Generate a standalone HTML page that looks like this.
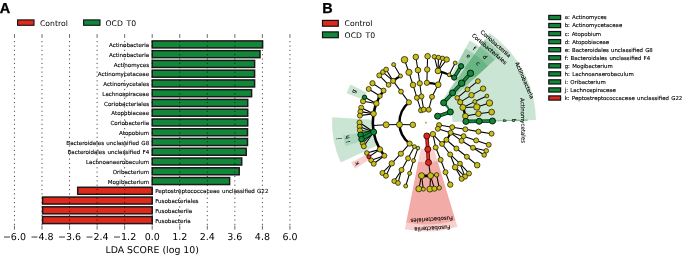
<!DOCTYPE html>
<html><head><meta charset="utf-8"><title>LEfSe</title>
<style>html,body{margin:0;padding:0;background:#fff}svg{display:block}text{text-rendering:geometricPrecision;filter:grayscale(1)}text[font-size^="5."]{stroke:#000;stroke-width:0.12px;word-spacing:0.5px}</style></head>
<body>
<svg width="685" height="255" viewBox="0 0 685 255" font-family='"DejaVu Sans","Liberation Sans",sans-serif' fill="#000">
<rect x="152.20" y="40.90" width="110.40" height="7.00" fill="#12873a" stroke="#1a1a1a" stroke-width="1.5"/>
<text x="149.2" y="47.00" font-size="5.55" text-anchor="end">Actinobacteria</text>
<rect x="152.20" y="50.66" width="107.80" height="7.00" fill="#12873a" stroke="#1a1a1a" stroke-width="1.5"/>
<text x="149.2" y="56.76" font-size="5.55" text-anchor="end">Actinobacteria</text>
<rect x="152.20" y="60.42" width="102.40" height="7.00" fill="#12873a" stroke="#1a1a1a" stroke-width="1.5"/>
<text x="149.2" y="66.52" font-size="5.55" text-anchor="end">Actinomyces</text>
<rect x="152.20" y="70.18" width="102.40" height="7.00" fill="#12873a" stroke="#1a1a1a" stroke-width="1.5"/>
<text x="149.2" y="76.28" font-size="5.55" text-anchor="end">Actinomycetaceae</text>
<rect x="152.20" y="79.94" width="102.40" height="7.00" fill="#12873a" stroke="#1a1a1a" stroke-width="1.5"/>
<text x="149.2" y="86.04" font-size="5.55" text-anchor="end">Actinomycetales</text>
<rect x="152.20" y="89.70" width="99.40" height="7.00" fill="#12873a" stroke="#1a1a1a" stroke-width="1.5"/>
<text x="149.2" y="95.80" font-size="5.55" text-anchor="end">Lachnospiraceae</text>
<rect x="152.20" y="99.46" width="95.50" height="7.00" fill="#12873a" stroke="#1a1a1a" stroke-width="1.5"/>
<text x="149.2" y="105.56" font-size="5.55" text-anchor="end">Coriobacteriales</text>
<rect x="152.20" y="109.22" width="95.50" height="7.00" fill="#12873a" stroke="#1a1a1a" stroke-width="1.5"/>
<text x="149.2" y="115.32" font-size="5.55" text-anchor="end">Atopobiaceae</text>
<rect x="152.20" y="118.98" width="95.50" height="7.00" fill="#12873a" stroke="#1a1a1a" stroke-width="1.5"/>
<text x="149.2" y="125.08" font-size="5.55" text-anchor="end">Coriobacteriia</text>
<rect x="152.20" y="128.74" width="95.30" height="7.00" fill="#12873a" stroke="#1a1a1a" stroke-width="1.5"/>
<text x="149.2" y="134.84" font-size="5.55" text-anchor="end">Atopobium</text>
<rect x="152.20" y="138.50" width="95.30" height="7.00" fill="#12873a" stroke="#1a1a1a" stroke-width="1.5"/>
<text x="149.2" y="144.60" font-size="5.55" text-anchor="end">Bacteroidales unclassified G8</text>
<rect x="152.20" y="148.26" width="94.00" height="7.00" fill="#12873a" stroke="#1a1a1a" stroke-width="1.5"/>
<text x="149.2" y="154.36" font-size="5.55" text-anchor="end">Bacteroidales unclassified F4</text>
<rect x="152.20" y="158.02" width="89.50" height="7.00" fill="#12873a" stroke="#1a1a1a" stroke-width="1.5"/>
<text x="149.2" y="164.12" font-size="5.55" text-anchor="end">Lachnoanaerobaculum</text>
<rect x="152.20" y="167.78" width="87.00" height="7.00" fill="#12873a" stroke="#1a1a1a" stroke-width="1.5"/>
<text x="149.2" y="173.88" font-size="5.55" text-anchor="end">Oribacterium</text>
<rect x="152.20" y="177.54" width="77.40" height="7.00" fill="#12873a" stroke="#1a1a1a" stroke-width="1.5"/>
<text x="149.2" y="183.64" font-size="5.55" text-anchor="end">Mogibacterium</text>
<rect x="77.70" y="187.30" width="74.50" height="7.00" fill="#e0281c" stroke="#1a1a1a" stroke-width="1.5"/>
<text x="155.2" y="193.40" font-size="5.55">Peptostreptococcaceae unclassified G22</text>
<rect x="42.60" y="197.06" width="109.60" height="7.00" fill="#e0281c" stroke="#1a1a1a" stroke-width="1.5"/>
<text x="155.2" y="203.16" font-size="5.55">Fusobacteriales</text>
<rect x="42.60" y="206.82" width="109.60" height="7.00" fill="#e0281c" stroke="#1a1a1a" stroke-width="1.5"/>
<text x="155.2" y="212.92" font-size="5.55">Fusobacteriia</text>
<rect x="42.60" y="216.58" width="109.60" height="7.00" fill="#e0281c" stroke="#1a1a1a" stroke-width="1.5"/>
<text x="155.2" y="222.68" font-size="5.55">Fusobacteria</text>
<g stroke="#000" stroke-width="0.75" stroke-dasharray="1.1 3.25"><line x1="14.45" y1="41.1" x2="14.45" y2="225"/><line x1="42.00" y1="41.1" x2="42.00" y2="225"/><line x1="69.55" y1="41.1" x2="69.55" y2="225"/><line x1="97.10" y1="41.1" x2="97.10" y2="225"/><line x1="124.65" y1="41.1" x2="124.65" y2="225"/><line x1="152.20" y1="41.1" x2="152.20" y2="225"/><line x1="179.75" y1="41.1" x2="179.75" y2="225"/><line x1="207.30" y1="41.1" x2="207.30" y2="225"/><line x1="234.85" y1="41.1" x2="234.85" y2="225"/><line x1="262.40" y1="41.1" x2="262.40" y2="225"/><line x1="289.95" y1="41.1" x2="289.95" y2="225"/></g>
<g stroke="#000" stroke-width="0.6"><line x1="14.45" y1="34.2" x2="14.45" y2="37.9"/><line x1="14.45" y1="225.6" x2="14.45" y2="229.6"/><line x1="42.00" y1="34.2" x2="42.00" y2="37.9"/><line x1="42.00" y1="225.6" x2="42.00" y2="229.6"/><line x1="69.55" y1="34.2" x2="69.55" y2="37.9"/><line x1="69.55" y1="225.6" x2="69.55" y2="229.6"/><line x1="97.10" y1="34.2" x2="97.10" y2="37.9"/><line x1="97.10" y1="225.6" x2="97.10" y2="229.6"/><line x1="124.65" y1="34.2" x2="124.65" y2="37.9"/><line x1="124.65" y1="225.6" x2="124.65" y2="229.6"/><line x1="152.20" y1="34.2" x2="152.20" y2="37.9"/><line x1="152.20" y1="225.6" x2="152.20" y2="229.6"/><line x1="179.75" y1="34.2" x2="179.75" y2="37.9"/><line x1="179.75" y1="225.6" x2="179.75" y2="229.6"/><line x1="207.30" y1="34.2" x2="207.30" y2="37.9"/><line x1="207.30" y1="225.6" x2="207.30" y2="229.6"/><line x1="234.85" y1="34.2" x2="234.85" y2="37.9"/><line x1="234.85" y1="225.6" x2="234.85" y2="229.6"/><line x1="262.40" y1="34.2" x2="262.40" y2="37.9"/><line x1="262.40" y1="225.6" x2="262.40" y2="229.6"/><line x1="289.95" y1="34.2" x2="289.95" y2="37.9"/><line x1="289.95" y1="225.6" x2="289.95" y2="229.6"/></g>
<text x="14.45" y="240.1" font-size="9.5" text-anchor="middle">−6.0</text>
<text x="42.00" y="240.1" font-size="9.5" text-anchor="middle">−4.8</text>
<text x="69.55" y="240.1" font-size="9.5" text-anchor="middle">−3.6</text>
<text x="97.10" y="240.1" font-size="9.5" text-anchor="middle">−2.4</text>
<text x="124.65" y="240.1" font-size="9.5" text-anchor="middle">−1.2</text>
<text x="152.20" y="240.1" font-size="9.5" text-anchor="middle">0.0</text>
<text x="179.75" y="240.1" font-size="9.5" text-anchor="middle">1.2</text>
<text x="207.30" y="240.1" font-size="9.5" text-anchor="middle">2.4</text>
<text x="234.85" y="240.1" font-size="9.5" text-anchor="middle">3.6</text>
<text x="262.40" y="240.1" font-size="9.5" text-anchor="middle">4.8</text>
<text x="289.95" y="240.1" font-size="9.5" text-anchor="middle">6.0</text>
<text x="152.2" y="252.6" font-size="9.4" text-anchor="middle">LDA SCORE (log 10)</text>
<rect x="17.6" y="19.9" width="16.4" height="5.4" fill="#e0281c" stroke="#111" stroke-width="1.1"/>
<text x="40" y="26.3" font-size="7.7">Control</text>
<rect x="83.6" y="19.9" width="16.4" height="5.4" fill="#12873a" stroke="#111" stroke-width="1.1"/>
<text x="105.5" y="26.3" font-size="7.7">OCD&#160;<tspan dx="1.2">T0</tspan></text>
<text x="-0.2" y="13.0" font-size="14.4" stroke="#000" stroke-width="0.3" font-weight="bold" font-family="&quot;Liberation Sans&quot;,sans-serif">A</text>
<text x="322.3" y="13.0" font-size="14.4" stroke="#000" stroke-width="0.3" font-weight="bold" font-family="&quot;Liberation Sans&quot;,sans-serif">B</text>
<rect x="322.5" y="20.4" width="15.8" height="5.8" fill="#e0281c" stroke="#111" stroke-width="1.2"/>
<text x="344.6" y="26.0" font-size="7.7">Control</text>
<rect x="322.5" y="31.9" width="15.8" height="5.8" fill="#12873a" stroke="#111" stroke-width="1.2"/>
<text x="344.6" y="37.5" font-size="7.7">OCD&#160;<tspan dx="1.2">T0</tspan></text>
<rect x="548.8" y="15.40" width="11.8" height="4.2" fill="#12873a" stroke="#111" stroke-width="1.2"/>
<text x="564.7" y="19.40" font-size="5.41">a: Actinomyces</text>
<rect x="548.8" y="23.45" width="11.8" height="4.2" fill="#12873a" stroke="#111" stroke-width="1.2"/>
<text x="564.7" y="27.45" font-size="5.41">b: Actinomycetaceae</text>
<rect x="548.8" y="31.50" width="11.8" height="4.2" fill="#12873a" stroke="#111" stroke-width="1.2"/>
<text x="564.7" y="35.50" font-size="5.41">c: Atopobium</text>
<rect x="548.8" y="39.55" width="11.8" height="4.2" fill="#12873a" stroke="#111" stroke-width="1.2"/>
<text x="564.7" y="43.55" font-size="5.41">d: Atopobiaceae</text>
<rect x="548.8" y="47.60" width="11.8" height="4.2" fill="#12873a" stroke="#111" stroke-width="1.2"/>
<text x="564.7" y="51.60" font-size="5.41">e: Bacteroidales unclassified G8</text>
<rect x="548.8" y="55.65" width="11.8" height="4.2" fill="#12873a" stroke="#111" stroke-width="1.2"/>
<text x="564.7" y="59.65" font-size="5.41">f: Bacteroidales unclassified F4</text>
<rect x="548.8" y="63.70" width="11.8" height="4.2" fill="#12873a" stroke="#111" stroke-width="1.2"/>
<text x="564.7" y="67.70" font-size="5.41">g: Mogibacterium</text>
<rect x="548.8" y="71.75" width="11.8" height="4.2" fill="#12873a" stroke="#111" stroke-width="1.2"/>
<text x="564.7" y="75.75" font-size="5.41">h: Lachnoanaerobaculum</text>
<rect x="548.8" y="79.80" width="11.8" height="4.2" fill="#12873a" stroke="#111" stroke-width="1.2"/>
<text x="564.7" y="83.80" font-size="5.41">i: Oribacterium</text>
<rect x="548.8" y="87.85" width="11.8" height="4.2" fill="#12873a" stroke="#111" stroke-width="1.2"/>
<text x="564.7" y="91.85" font-size="5.41">j: Lachnospiraceae</text>
<rect x="548.8" y="95.90" width="11.8" height="4.2" fill="#e0281c" stroke="#111" stroke-width="1.2"/>
<text x="564.7" y="99.90" font-size="5.41">k: Peptostreptococcaceae unclassified G22</text>
<g><path d="M452.59,122.05 L535.97,120.01 A110.00,110.00 0 0 0 507.10,48.39 L445.61,104.73 A26.60,26.60 0 0 1 452.59,122.05 Z" fill="#12873a" fill-opacity="0.22"/><path d="M445.61,104.73 L507.10,48.39 A110.00,110.00 0 0 0 489.56,32.92 L441.37,100.99 A26.60,26.60 0 0 1 445.61,104.73 Z" fill="#12873a" fill-opacity="0.22"/><path d="M455.42,95.74 L501.05,53.92 A101.80,101.80 0 0 0 484.83,39.62 L449.06,90.14 A39.90,39.90 0 0 1 455.42,95.74 Z" fill="#12873a" fill-opacity="0.22"/><path d="M465.22,86.76 L494.57,59.87 A93.00,93.00 0 0 0 479.74,46.80 L456.74,79.28 A53.20,53.20 0 0 1 465.22,86.76 Z" fill="#12873a" fill-opacity="0.22"/><path d="M475.03,77.77 L487.93,65.95 A84.00,84.00 0 0 0 474.54,54.14 L464.43,68.43 A66.50,66.50 0 0 1 475.03,77.77 Z" fill="#12873a" fill-opacity="0.22"/><path d="M456.74,79.28 L479.74,46.80 A93.00,93.00 0 0 0 469.66,40.59 L450.98,75.73 A53.20,53.20 0 0 1 456.74,79.28 Z" fill="#12873a" fill-opacity="0.22"/><path d="M464.43,68.43 L474.54,54.14 A84.00,84.00 0 0 0 465.44,48.53 L457.22,63.98 A66.50,66.50 0 0 1 464.43,68.43 Z" fill="#12873a" fill-opacity="0.22"/><path d="M372.89,119.64 L332.16,117.29 A94.00,94.00 0 0 0 340.81,162.43 L377.78,145.18 A53.20,53.20 0 0 1 372.89,119.64 Z" fill="#12873a" fill-opacity="0.22"/><path d="M360.25,132.64 L342.94,135.26 A84.00,84.00 0 0 0 343.96,140.74 L361.05,136.98 A66.50,66.50 0 0 1 360.25,132.64 Z" fill="#12873a" fill-opacity="0.15"/><path d="M361.05,136.98 L343.96,140.74 A84.00,84.00 0 0 0 345.29,145.99 L362.11,141.14 A66.50,66.50 0 0 1 361.05,136.98 Z" fill="#12873a" fill-opacity="0.15"/><path d="M366.70,92.61 L350.46,84.38 A84.70,84.70 0 0 0 346.56,93.31 L363.63,99.63 A66.50,66.50 0 0 1 366.70,92.61 Z" fill="#12873a" fill-opacity="0.22"/><path d="M367.28,153.92 L351.21,162.46 A84.70,84.70 0 0 0 354.96,168.83 L370.23,158.92 A66.50,66.50 0 0 1 367.28,153.92 Z" fill="#e0281c" fill-opacity="0.22"/><path d="M420.83,148.79 L404.89,229.33 A108.70,108.70 0 0 0 457.42,226.76 L433.69,148.16 A26.60,26.60 0 0 1 420.83,148.79 Z" fill="#e0281c" fill-opacity="0.22"/><path d="M418.25,161.84 L406.23,222.56 A101.80,101.80 0 0 0 455.42,220.16 L437.53,160.90 A39.90,39.90 0 0 1 418.25,161.84 Z" fill="#e0281c" fill-opacity="0.22"/><line x1="492.48" y1="121.02" x2="527.77" y2="120.12" stroke="#12873a" stroke-opacity="0.5" stroke-width="1.2"/></g>
<g><line x1="421.03" y1="110.36" x2="416.89" y2="97.71" stroke="#000" stroke-width="1.05"/><line x1="423.68" y1="109.60" x2="421.46" y2="96.49" stroke="#000" stroke-width="1.05"/><line x1="428.72" y1="109.68" x2="432.00" y2="96.79" stroke="#000" stroke-width="1.05"/><line x1="439.09" y1="125.08" x2="452.21" y2="127.24" stroke="#000" stroke-width="1.05"/><line x1="437.84" y1="128.77" x2="450.62" y2="132.77" stroke="#000" stroke-width="1.05"/><line x1="432.87" y1="134.09" x2="442.05" y2="143.91" stroke="#000" stroke-width="1.05"/><line x1="432.87" y1="134.09" x2="435.71" y2="147.47" stroke="#000" stroke-width="1.05"/><line x1="412.87" y1="124.82" x2="399.46" y2="124.55" stroke="#000" stroke-width="1.05"/><line x1="416.89" y1="97.71" x2="413.03" y2="84.97" stroke="#000" stroke-width="1.05"/><line x1="421.46" y1="96.49" x2="419.78" y2="83.29" stroke="#000" stroke-width="1.05"/><line x1="432.00" y1="96.79" x2="438.16" y2="84.70" stroke="#000" stroke-width="1.05"/><line x1="452.21" y1="127.24" x2="465.35" y2="129.32" stroke="#000" stroke-width="1.05"/><line x1="450.62" y1="132.77" x2="463.55" y2="136.19" stroke="#000" stroke-width="1.05"/><line x1="450.62" y1="132.77" x2="461.55" y2="140.82" stroke="#000" stroke-width="1.05"/><line x1="446.40" y1="139.77" x2="456.42" y2="148.52" stroke="#000" stroke-width="1.05"/><line x1="442.05" y1="143.91" x2="450.13" y2="154.47" stroke="#000" stroke-width="1.05"/><line x1="435.71" y1="147.47" x2="440.65" y2="159.81" stroke="#000" stroke-width="1.05"/><line x1="408.90" y1="102.32" x2="401.01" y2="91.59" stroke="#000" stroke-width="1.05"/><line x1="399.46" y1="124.55" x2="386.15" y2="124.77" stroke="#000" stroke-width="1.05"/><line x1="409.57" y1="143.62" x2="400.86" y2="153.68" stroke="#000" stroke-width="1.05"/><line x1="414.38" y1="146.63" x2="408.08" y2="158.35" stroke="#000" stroke-width="1.05"/><line x1="417.97" y1="148.06" x2="413.56" y2="160.61" stroke="#000" stroke-width="1.05"/><line x1="413.03" y1="84.97" x2="408.94" y2="72.31" stroke="#000" stroke-width="1.05"/><line x1="419.78" y1="83.29" x2="417.97" y2="70.11" stroke="#000" stroke-width="1.05"/><line x1="426.90" y1="82.81" x2="427.21" y2="69.51" stroke="#000" stroke-width="1.05"/><line x1="457.22" y1="97.85" x2="467.46" y2="89.37" stroke="#000" stroke-width="1.05"/><line x1="460.20" y1="102.14" x2="471.50" y2="95.14" stroke="#000" stroke-width="1.05"/><line x1="462.87" y1="107.45" x2="474.84" y2="101.60" stroke="#000" stroke-width="1.05"/><line x1="462.87" y1="107.45" x2="476.82" y2="106.96" stroke="#000" stroke-width="1.05"/><line x1="465.35" y1="116.08" x2="478.44" y2="113.73" stroke="#000" stroke-width="1.05"/><line x1="465.35" y1="129.32" x2="478.45" y2="131.61" stroke="#000" stroke-width="1.05"/><line x1="463.55" y1="136.19" x2="476.16" y2="140.42" stroke="#000" stroke-width="1.05"/><line x1="461.55" y1="140.82" x2="472.95" y2="147.72" stroke="#000" stroke-width="1.05"/><line x1="456.42" y1="148.52" x2="466.87" y2="156.76" stroke="#000" stroke-width="1.05"/><line x1="450.13" y1="154.47" x2="455.14" y2="167.21" stroke="#000" stroke-width="1.05"/><line x1="450.13" y1="154.47" x2="460.01" y2="163.61" stroke="#000" stroke-width="1.05"/><line x1="440.65" y1="159.81" x2="445.52" y2="172.19" stroke="#000" stroke-width="1.05"/><line x1="428.49" y1="162.52" x2="430.57" y2="175.70" stroke="#000" stroke-width="1.05"/><line x1="400.86" y1="153.68" x2="391.75" y2="163.41" stroke="#000" stroke-width="1.05"/><line x1="408.08" y1="158.35" x2="401.54" y2="169.94" stroke="#000" stroke-width="1.05"/><line x1="413.56" y1="160.61" x2="409.62" y2="173.32" stroke="#000" stroke-width="1.05"/><line x1="401.01" y1="91.59" x2="393.11" y2="80.89" stroke="#000" stroke-width="1.05"/><line x1="408.94" y1="72.31" x2="404.52" y2="59.76" stroke="#000" stroke-width="1.05"/><line x1="417.97" y1="70.11" x2="415.81" y2="56.98" stroke="#000" stroke-width="1.05"/><line x1="427.21" y1="69.51" x2="427.60" y2="56.22" stroke="#000" stroke-width="1.05"/><line x1="438.03" y1="70.88" x2="434.33" y2="56.72" stroke="#000" stroke-width="1.05"/><line x1="438.03" y1="70.88" x2="438.48" y2="57.38" stroke="#000" stroke-width="1.05"/><line x1="438.03" y1="70.88" x2="442.53" y2="58.29" stroke="#000" stroke-width="1.05"/><line x1="438.03" y1="70.88" x2="446.70" y2="59.50" stroke="#000" stroke-width="1.05"/><line x1="449.19" y1="74.82" x2="455.17" y2="62.94" stroke="#000" stroke-width="1.05"/><line x1="467.46" y1="89.37" x2="477.91" y2="81.13" stroke="#000" stroke-width="1.05"/><line x1="471.50" y1="95.14" x2="483.11" y2="88.63" stroke="#000" stroke-width="1.05"/><line x1="474.84" y1="101.60" x2="486.90" y2="96.00" stroke="#000" stroke-width="1.05"/><line x1="476.82" y1="106.96" x2="489.50" y2="102.97" stroke="#000" stroke-width="1.05"/><line x1="478.44" y1="113.73" x2="491.64" y2="112.06" stroke="#000" stroke-width="1.05"/><line x1="478.45" y1="131.61" x2="491.59" y2="133.68" stroke="#000" stroke-width="1.05"/><line x1="476.16" y1="140.42" x2="488.72" y2="144.80" stroke="#000" stroke-width="1.05"/><line x1="472.95" y1="147.72" x2="486.26" y2="150.83" stroke="#000" stroke-width="1.05"/><line x1="472.95" y1="147.72" x2="484.15" y2="154.97" stroke="#000" stroke-width="1.05"/><line x1="466.87" y1="156.76" x2="477.16" y2="165.18" stroke="#000" stroke-width="1.05"/><line x1="460.01" y1="163.61" x2="468.96" y2="173.47" stroke="#000" stroke-width="1.05"/><line x1="455.14" y1="167.21" x2="464.97" y2="176.58" stroke="#000" stroke-width="1.05"/><line x1="460.01" y1="163.61" x2="464.97" y2="176.58" stroke="#000" stroke-width="1.05"/><line x1="455.14" y1="167.21" x2="461.61" y2="178.86" stroke="#000" stroke-width="1.05"/><line x1="445.52" y1="172.19" x2="450.25" y2="184.62" stroke="#000" stroke-width="1.05"/><line x1="421.53" y1="175.71" x2="418.82" y2="188.81" stroke="#000" stroke-width="1.05"/><line x1="421.53" y1="175.71" x2="423.31" y2="189.15" stroke="#000" stroke-width="1.05"/><line x1="430.57" y1="175.70" x2="429.89" y2="189.09" stroke="#000" stroke-width="1.05"/><line x1="430.57" y1="175.70" x2="434.36" y2="188.67" stroke="#000" stroke-width="1.05"/><line x1="436.60" y1="174.83" x2="439.23" y2="187.87" stroke="#000" stroke-width="1.05"/><line x1="391.75" y1="163.41" x2="382.43" y2="172.94" stroke="#000" stroke-width="1.05"/><line x1="391.75" y1="163.41" x2="385.94" y2="175.78" stroke="#000" stroke-width="1.05"/><line x1="401.54" y1="169.94" x2="394.22" y2="181.11" stroke="#000" stroke-width="1.05"/><line x1="401.54" y1="169.94" x2="398.01" y2="183.02" stroke="#000" stroke-width="1.05"/><line x1="409.62" y1="173.32" x2="405.69" y2="186.02" stroke="#000" stroke-width="1.05"/><line x1="379.97" y1="149.37" x2="366.80" y2="152.99" stroke="#000" stroke-width="1.05"/><line x1="379.97" y1="149.37" x2="368.90" y2="156.78" stroke="#000" stroke-width="1.05"/><line x1="384.33" y1="155.78" x2="371.15" y2="160.29" stroke="#000" stroke-width="1.05"/><line x1="384.33" y1="155.78" x2="373.71" y2="163.78" stroke="#000" stroke-width="1.05"/><line x1="373.62" y1="131.99" x2="359.50" y2="122.50" stroke="#000" stroke-width="1.05"/><line x1="373.62" y1="131.99" x2="359.62" y2="126.75" stroke="#000" stroke-width="1.05"/><line x1="373.62" y1="131.99" x2="359.95" y2="130.42" stroke="#000" stroke-width="1.05"/><line x1="373.62" y1="131.99" x2="362.71" y2="143.10" stroke="#000" stroke-width="1.05"/><line x1="373.62" y1="131.99" x2="363.82" y2="146.27" stroke="#000" stroke-width="1.05"/><line x1="373.57" y1="113.70" x2="361.22" y2="107.67" stroke="#000" stroke-width="1.05"/><line x1="373.57" y1="113.70" x2="360.43" y2="111.64" stroke="#000" stroke-width="1.05"/><line x1="373.57" y1="113.70" x2="359.88" y2="115.62" stroke="#000" stroke-width="1.05"/><line x1="376.40" y1="103.47" x2="364.55" y2="97.29" stroke="#000" stroke-width="1.05"/><line x1="376.40" y1="103.47" x2="363.04" y2="101.28" stroke="#000" stroke-width="1.05"/><line x1="379.96" y1="96.05" x2="368.69" y2="88.97" stroke="#000" stroke-width="1.05"/><line x1="383.59" y1="90.58" x2="372.49" y2="83.21" stroke="#000" stroke-width="1.05"/><line x1="388.58" y1="84.88" x2="379.28" y2="75.38" stroke="#000" stroke-width="1.05"/><line x1="393.11" y1="80.89" x2="382.91" y2="72.05" stroke="#000" stroke-width="1.05"/><line x1="393.11" y1="80.89" x2="386.13" y2="69.48" stroke="#000" stroke-width="1.05"/><line x1="400.50" y1="76.01" x2="393.65" y2="64.60" stroke="#000" stroke-width="1.05"/><line x1="438.16" y1="84.70" x2="442.22" y2="72.03" stroke="#000" stroke-width="1.05"/><line x1="386.15" y1="124.77" x2="372.87" y2="125.46" stroke="#000" stroke-width="1.05"/><path d="M408.90,102.32 A26.60,26.60 0 0 0 409.57,143.62" fill="none" stroke="#000" stroke-width="2.4"/><path d="M409.57,143.62 A26.60,26.60 0 0 0 417.97,148.06" fill="none" stroke="#000" stroke-width="1.0"/><path d="M450.62,132.77 A26.60,26.60 0 0 1 446.40,139.77" fill="none" stroke="#000" stroke-width="2.0"/><path d="M446.40,139.77 A26.60,26.60 0 0 1 442.05,143.91" fill="none" stroke="#000" stroke-width="2.0"/><path d="M426.90,82.81 A39.90,39.90 0 0 1 438.16,84.70" fill="none" stroke="#000" stroke-width="2.2"/><path d="M457.22,97.85 A39.90,39.90 0 0 1 462.87,107.45" fill="none" stroke="#000" stroke-width="1.3"/><path d="M462.87,107.45 A39.90,39.90 0 0 1 465.35,116.08" fill="none" stroke="#000" stroke-width="2.4"/><path d="M465.35,116.08 A39.90,39.90 0 0 1 465.88,121.40" fill="none" stroke="#000" stroke-width="1.3"/><path d="M438.03,70.88 A53.20,53.20 0 0 1 454.20,77.59" fill="none" stroke="#000" stroke-width="2.2"/><path d="M421.53,175.71 A53.20,53.20 0 0 0 430.57,175.70" fill="none" stroke="#000" stroke-width="2.8"/><path d="M430.57,175.70 A53.20,53.20 0 0 0 436.60,174.83" fill="none" stroke="#000" stroke-width="1.4"/><path d="M383.59,90.58 A53.20,53.20 0 0 0 384.33,155.78" fill="none" stroke="#000" stroke-width="2.6"/><path d="M400.50,76.01 A53.20,53.20 0 0 0 393.11,80.89" fill="none" stroke="#000" stroke-width="2.2"/><path d="M393.11,80.89 A53.20,53.20 0 0 0 388.58,84.88" fill="none" stroke="#000" stroke-width="0.9"/><line x1="437.59" y1="116.18" x2="450.34" y2="111.96" stroke="#05260e" stroke-width="3.6" stroke-linecap="round"/><line x1="437.59" y1="116.18" x2="450.34" y2="111.96" stroke="#12873a" stroke-width="2.2"/><line x1="443.61" y1="102.76" x2="452.55" y2="92.92" stroke="#05260e" stroke-width="3.6" stroke-linecap="round"/><line x1="443.61" y1="102.76" x2="452.55" y2="92.92" stroke="#12873a" stroke-width="2.2"/><line x1="452.55" y1="92.92" x2="461.65" y2="83.21" stroke="#05260e" stroke-width="3.6" stroke-linecap="round"/><line x1="452.55" y1="92.92" x2="461.65" y2="83.21" stroke="#12873a" stroke-width="2.2"/><line x1="461.65" y1="83.21" x2="470.50" y2="73.29" stroke="#05260e" stroke-width="3.6" stroke-linecap="round"/><line x1="461.65" y1="83.21" x2="470.50" y2="73.29" stroke="#12873a" stroke-width="2.2"/><line x1="454.20" y1="77.59" x2="461.08" y2="66.21" stroke="#05260e" stroke-width="3.6" stroke-linecap="round"/><line x1="454.20" y1="77.59" x2="461.08" y2="66.21" stroke="#12873a" stroke-width="2.2"/><line x1="465.88" y1="121.40" x2="479.18" y2="121.29" stroke="#05260e" stroke-width="3.6" stroke-linecap="round"/><line x1="465.88" y1="121.40" x2="479.18" y2="121.29" stroke="#12873a" stroke-width="2.2"/><line x1="479.18" y1="121.29" x2="492.48" y2="121.00" stroke="#05260e" stroke-width="3.6" stroke-linecap="round"/><line x1="479.18" y1="121.29" x2="492.48" y2="121.00" stroke="#12873a" stroke-width="2.2"/><line x1="373.62" y1="131.99" x2="360.61" y2="134.81" stroke="#05260e" stroke-width="3.6" stroke-linecap="round"/><line x1="373.62" y1="131.99" x2="360.61" y2="134.81" stroke="#12873a" stroke-width="2.2"/><line x1="373.62" y1="131.99" x2="361.56" y2="139.13" stroke="#05260e" stroke-width="3.6" stroke-linecap="round"/><line x1="373.62" y1="131.99" x2="361.56" y2="139.13" stroke="#12873a" stroke-width="2.2"/><path d="M450.34,111.96 A26.60,26.60 0 0 0 443.61,102.76" fill="none" stroke="#0b5a26" stroke-width="2.0"/><path d="M450.34,111.96 A26.60,26.60 0 0 0 443.61,102.76" fill="none" stroke="#12873a" stroke-width="0.8"/><line x1="426.79" y1="135.98" x2="427.80" y2="149.24" stroke="#4a0804" stroke-width="3.6"/><line x1="426.79" y1="135.98" x2="427.80" y2="149.24" stroke="#e0281c" stroke-width="2.2"/><line x1="427.80" y1="149.24" x2="428.49" y2="162.52" stroke="#4a0804" stroke-width="3.6"/><line x1="427.80" y1="149.24" x2="428.49" y2="162.52" stroke="#e0281c" stroke-width="2.2"/></g>
<g><circle cx="426.0" cy="122.7" r="0.85" fill="#a39a10"/><circle cx="421.03" cy="110.36" r="2.5" fill="#c9bf1b" stroke="#1c1a00" stroke-width="0.75"/><circle cx="423.68" cy="109.60" r="2.5" fill="#c9bf1b" stroke="#1c1a00" stroke-width="0.75"/><circle cx="428.72" cy="109.68" r="2.5" fill="#c9bf1b" stroke="#1c1a00" stroke-width="0.75"/><circle cx="439.09" cy="125.08" r="2.5" fill="#c9bf1b" stroke="#1c1a00" stroke-width="0.75"/><circle cx="437.84" cy="128.77" r="2.5" fill="#c9bf1b" stroke="#1c1a00" stroke-width="0.75"/><circle cx="432.87" cy="134.09" r="2.7" fill="#c9bf1b" stroke="#1c1a00" stroke-width="0.75"/><circle cx="412.87" cy="124.82" r="2.8" fill="#c9bf1b" stroke="#1c1a00" stroke-width="0.75"/><circle cx="416.89" cy="97.71" r="2.5" fill="#c9bf1b" stroke="#1c1a00" stroke-width="0.75"/><circle cx="421.46" cy="96.49" r="2.5" fill="#c9bf1b" stroke="#1c1a00" stroke-width="0.75"/><circle cx="432.00" cy="96.79" r="2.5" fill="#c9bf1b" stroke="#1c1a00" stroke-width="0.75"/><circle cx="452.21" cy="127.24" r="2.5" fill="#c9bf1b" stroke="#1c1a00" stroke-width="0.75"/><circle cx="450.62" cy="132.77" r="2.5" fill="#c9bf1b" stroke="#1c1a00" stroke-width="0.75"/><circle cx="446.40" cy="139.77" r="2.5" fill="#c9bf1b" stroke="#1c1a00" stroke-width="0.75"/><circle cx="442.05" cy="143.91" r="2.5" fill="#c9bf1b" stroke="#1c1a00" stroke-width="0.75"/><circle cx="435.71" cy="147.47" r="2.5" fill="#c9bf1b" stroke="#1c1a00" stroke-width="0.75"/><circle cx="408.90" cy="102.32" r="2.6" fill="#c9bf1b" stroke="#1c1a00" stroke-width="0.75"/><circle cx="399.46" cy="124.55" r="3.0" fill="#c9bf1b" stroke="#1c1a00" stroke-width="0.75"/><circle cx="409.57" cy="143.62" r="2.6" fill="#c9bf1b" stroke="#1c1a00" stroke-width="0.75"/><circle cx="414.38" cy="146.63" r="2.0" fill="#c9bf1b" stroke="#1c1a00" stroke-width="0.75"/><circle cx="417.97" cy="148.06" r="1.8" fill="#c9bf1b" stroke="#1c1a00" stroke-width="0.75"/><circle cx="413.03" cy="84.97" r="2.8" fill="#c9bf1b" stroke="#1c1a00" stroke-width="0.75"/><circle cx="419.78" cy="83.29" r="2.6" fill="#c9bf1b" stroke="#1c1a00" stroke-width="0.75"/><circle cx="426.90" cy="82.81" r="2.6" fill="#c9bf1b" stroke="#1c1a00" stroke-width="0.75"/><circle cx="438.16" cy="84.70" r="2.9" fill="#c9bf1b" stroke="#1c1a00" stroke-width="0.75"/><circle cx="457.22" cy="97.85" r="2.3" fill="#c9bf1b" stroke="#1c1a00" stroke-width="0.75"/><circle cx="460.20" cy="102.14" r="2.6" fill="#c9bf1b" stroke="#1c1a00" stroke-width="0.75"/><circle cx="462.87" cy="107.45" r="3.0" fill="#c9bf1b" stroke="#1c1a00" stroke-width="0.75"/><circle cx="465.35" cy="116.08" r="2.8" fill="#c9bf1b" stroke="#1c1a00" stroke-width="0.75"/><circle cx="465.35" cy="129.32" r="2.5" fill="#c9bf1b" stroke="#1c1a00" stroke-width="0.75"/><circle cx="463.55" cy="136.19" r="2.5" fill="#c9bf1b" stroke="#1c1a00" stroke-width="0.75"/><circle cx="461.55" cy="140.82" r="2.5" fill="#c9bf1b" stroke="#1c1a00" stroke-width="0.75"/><circle cx="456.42" cy="148.52" r="2.5" fill="#c9bf1b" stroke="#1c1a00" stroke-width="0.75"/><circle cx="450.13" cy="154.47" r="2.5" fill="#c9bf1b" stroke="#1c1a00" stroke-width="0.75"/><circle cx="440.65" cy="159.81" r="2.5" fill="#c9bf1b" stroke="#1c1a00" stroke-width="0.75"/><circle cx="401.01" cy="91.59" r="2.4" fill="#c9bf1b" stroke="#1c1a00" stroke-width="0.75"/><circle cx="386.15" cy="124.77" r="3.0" fill="#c9bf1b" stroke="#1c1a00" stroke-width="0.75"/><circle cx="400.86" cy="153.68" r="2.6" fill="#c9bf1b" stroke="#1c1a00" stroke-width="0.75"/><circle cx="408.08" cy="158.35" r="2.5" fill="#c9bf1b" stroke="#1c1a00" stroke-width="0.75"/><circle cx="413.56" cy="160.61" r="2.0" fill="#c9bf1b" stroke="#1c1a00" stroke-width="0.75"/><circle cx="408.94" cy="72.31" r="3.1" fill="#c9bf1b" stroke="#1c1a00" stroke-width="0.75"/><circle cx="417.97" cy="70.11" r="2.8" fill="#c9bf1b" stroke="#1c1a00" stroke-width="0.75"/><circle cx="427.21" cy="69.51" r="2.7" fill="#c9bf1b" stroke="#1c1a00" stroke-width="0.75"/><circle cx="438.03" cy="70.88" r="2.9" fill="#c9bf1b" stroke="#1c1a00" stroke-width="0.75"/><circle cx="449.19" cy="74.82" r="1.9" fill="#c9bf1b" stroke="#1c1a00" stroke-width="0.75"/><circle cx="467.46" cy="89.37" r="2.4" fill="#c9bf1b" stroke="#1c1a00" stroke-width="0.75"/><circle cx="471.50" cy="95.14" r="2.7" fill="#c9bf1b" stroke="#1c1a00" stroke-width="0.75"/><circle cx="474.84" cy="101.60" r="2.0" fill="#c9bf1b" stroke="#1c1a00" stroke-width="0.75"/><circle cx="476.82" cy="106.96" r="3.2" fill="#c9bf1b" stroke="#1c1a00" stroke-width="0.75"/><circle cx="478.44" cy="113.73" r="2.8" fill="#c9bf1b" stroke="#1c1a00" stroke-width="0.75"/><circle cx="478.45" cy="131.61" r="2.5" fill="#c9bf1b" stroke="#1c1a00" stroke-width="0.75"/><circle cx="476.16" cy="140.42" r="2.5" fill="#c9bf1b" stroke="#1c1a00" stroke-width="0.75"/><circle cx="472.95" cy="147.72" r="2.5" fill="#c9bf1b" stroke="#1c1a00" stroke-width="0.75"/><circle cx="466.87" cy="156.76" r="2.5" fill="#c9bf1b" stroke="#1c1a00" stroke-width="0.75"/><circle cx="455.14" cy="167.21" r="2.8" fill="#c9bf1b" stroke="#1c1a00" stroke-width="0.75"/><circle cx="460.01" cy="163.61" r="2.4" fill="#c9bf1b" stroke="#1c1a00" stroke-width="0.75"/><circle cx="445.52" cy="172.19" r="2.5" fill="#c9bf1b" stroke="#1c1a00" stroke-width="0.75"/><circle cx="421.53" cy="175.71" r="3.0" fill="#c9bf1b" stroke="#1c1a00" stroke-width="0.75"/><circle cx="430.57" cy="175.70" r="3.0" fill="#c9bf1b" stroke="#1c1a00" stroke-width="0.75"/><circle cx="436.60" cy="174.83" r="2.2" fill="#c9bf1b" stroke="#1c1a00" stroke-width="0.75"/><circle cx="391.75" cy="163.41" r="2.7" fill="#c9bf1b" stroke="#1c1a00" stroke-width="0.75"/><circle cx="401.54" cy="169.94" r="2.5" fill="#c9bf1b" stroke="#1c1a00" stroke-width="0.75"/><circle cx="409.62" cy="173.32" r="2.0" fill="#c9bf1b" stroke="#1c1a00" stroke-width="0.75"/><circle cx="388.58" cy="84.88" r="2.4" fill="#c9bf1b" stroke="#1c1a00" stroke-width="0.75"/><circle cx="383.59" cy="90.58" r="2.5" fill="#c9bf1b" stroke="#1c1a00" stroke-width="0.75"/><circle cx="379.96" cy="96.05" r="2.3" fill="#c9bf1b" stroke="#1c1a00" stroke-width="0.75"/><circle cx="376.40" cy="103.47" r="2.7" fill="#c9bf1b" stroke="#1c1a00" stroke-width="0.75"/><circle cx="373.57" cy="113.70" r="2.8" fill="#c9bf1b" stroke="#1c1a00" stroke-width="0.75"/><circle cx="379.97" cy="149.37" r="2.7" fill="#c9bf1b" stroke="#1c1a00" stroke-width="0.75"/><circle cx="384.33" cy="155.78" r="2.5" fill="#c9bf1b" stroke="#1c1a00" stroke-width="0.75"/><circle cx="400.50" cy="76.01" r="2.0" fill="#c9bf1b" stroke="#1c1a00" stroke-width="0.75"/><circle cx="393.11" cy="80.89" r="2.6" fill="#c9bf1b" stroke="#1c1a00" stroke-width="0.75"/><circle cx="404.52" cy="59.76" r="3.3" fill="#c9bf1b" stroke="#1c1a00" stroke-width="0.75"/><circle cx="415.81" cy="56.98" r="2.8" fill="#c9bf1b" stroke="#1c1a00" stroke-width="0.75"/><circle cx="427.60" cy="56.22" r="2.8" fill="#c9bf1b" stroke="#1c1a00" stroke-width="0.75"/><circle cx="434.33" cy="56.72" r="2.2" fill="#c9bf1b" stroke="#1c1a00" stroke-width="0.75"/><circle cx="438.48" cy="57.38" r="2.2" fill="#c9bf1b" stroke="#1c1a00" stroke-width="0.75"/><circle cx="442.53" cy="58.29" r="2.2" fill="#c9bf1b" stroke="#1c1a00" stroke-width="0.75"/><circle cx="446.70" cy="59.50" r="2.7" fill="#c9bf1b" stroke="#1c1a00" stroke-width="0.75"/><circle cx="455.17" cy="62.94" r="1.9" fill="#c9bf1b" stroke="#1c1a00" stroke-width="0.75"/><circle cx="477.91" cy="81.13" r="2.4" fill="#c9bf1b" stroke="#1c1a00" stroke-width="0.75"/><circle cx="483.11" cy="88.63" r="2.7" fill="#c9bf1b" stroke="#1c1a00" stroke-width="0.75"/><circle cx="486.90" cy="96.00" r="1.9" fill="#c9bf1b" stroke="#1c1a00" stroke-width="0.75"/><circle cx="489.50" cy="102.97" r="3.2" fill="#c9bf1b" stroke="#1c1a00" stroke-width="0.75"/><circle cx="491.64" cy="112.06" r="2.9" fill="#c9bf1b" stroke="#1c1a00" stroke-width="0.75"/><circle cx="491.59" cy="133.68" r="2.5" fill="#c9bf1b" stroke="#1c1a00" stroke-width="0.75"/><circle cx="488.72" cy="144.80" r="2.5" fill="#c9bf1b" stroke="#1c1a00" stroke-width="0.75"/><circle cx="486.26" cy="150.83" r="2.3" fill="#c9bf1b" stroke="#1c1a00" stroke-width="0.75"/><circle cx="484.15" cy="154.97" r="2.3" fill="#c9bf1b" stroke="#1c1a00" stroke-width="0.75"/><circle cx="477.16" cy="165.18" r="2.8" fill="#c9bf1b" stroke="#1c1a00" stroke-width="0.75"/><circle cx="468.96" cy="173.47" r="2.5" fill="#c9bf1b" stroke="#1c1a00" stroke-width="0.75"/><circle cx="464.97" cy="176.58" r="2.6" fill="#c9bf1b" stroke="#1c1a00" stroke-width="0.75"/><circle cx="461.61" cy="178.86" r="2.5" fill="#c9bf1b" stroke="#1c1a00" stroke-width="0.75"/><circle cx="450.25" cy="184.62" r="2.7" fill="#c9bf1b" stroke="#1c1a00" stroke-width="0.75"/><circle cx="418.82" cy="188.81" r="3.0" fill="#c9bf1b" stroke="#1c1a00" stroke-width="0.75"/><circle cx="423.31" cy="189.15" r="2.0" fill="#c9bf1b" stroke="#1c1a00" stroke-width="0.75"/><circle cx="429.89" cy="189.09" r="3.0" fill="#c9bf1b" stroke="#1c1a00" stroke-width="0.75"/><circle cx="434.36" cy="188.67" r="2.6" fill="#c9bf1b" stroke="#1c1a00" stroke-width="0.75"/><circle cx="439.23" cy="187.87" r="2.2" fill="#c9bf1b" stroke="#1c1a00" stroke-width="0.75"/><circle cx="382.43" cy="172.94" r="2.5" fill="#c9bf1b" stroke="#1c1a00" stroke-width="0.75"/><circle cx="385.94" cy="175.78" r="2.5" fill="#c9bf1b" stroke="#1c1a00" stroke-width="0.75"/><circle cx="394.22" cy="181.11" r="2.4" fill="#c9bf1b" stroke="#1c1a00" stroke-width="0.75"/><circle cx="398.01" cy="183.02" r="2.4" fill="#c9bf1b" stroke="#1c1a00" stroke-width="0.75"/><circle cx="405.69" cy="186.02" r="2.0" fill="#c9bf1b" stroke="#1c1a00" stroke-width="0.75"/><circle cx="366.80" cy="152.99" r="2.3" fill="#c9bf1b" stroke="#1c1a00" stroke-width="0.75"/><circle cx="371.15" cy="160.29" r="2.4" fill="#c9bf1b" stroke="#1c1a00" stroke-width="0.75"/><circle cx="373.71" cy="163.78" r="2.5" fill="#c9bf1b" stroke="#1c1a00" stroke-width="0.75"/><circle cx="359.50" cy="122.50" r="2.5" fill="#c9bf1b" stroke="#1c1a00" stroke-width="0.75"/><circle cx="359.62" cy="126.75" r="2.5" fill="#c9bf1b" stroke="#1c1a00" stroke-width="0.75"/><circle cx="359.95" cy="130.42" r="2.5" fill="#c9bf1b" stroke="#1c1a00" stroke-width="0.75"/><circle cx="362.71" cy="143.10" r="2.5" fill="#c9bf1b" stroke="#1c1a00" stroke-width="0.75"/><circle cx="363.82" cy="146.27" r="2.5" fill="#c9bf1b" stroke="#1c1a00" stroke-width="0.75"/><circle cx="361.22" cy="107.67" r="2.5" fill="#c9bf1b" stroke="#1c1a00" stroke-width="0.75"/><circle cx="360.43" cy="111.64" r="2.5" fill="#c9bf1b" stroke="#1c1a00" stroke-width="0.75"/><circle cx="359.88" cy="115.62" r="2.5" fill="#c9bf1b" stroke="#1c1a00" stroke-width="0.75"/><circle cx="363.04" cy="101.28" r="2.6" fill="#c9bf1b" stroke="#1c1a00" stroke-width="0.75"/><circle cx="368.69" cy="88.97" r="2.5" fill="#c9bf1b" stroke="#1c1a00" stroke-width="0.75"/><circle cx="372.49" cy="83.21" r="2.6" fill="#c9bf1b" stroke="#1c1a00" stroke-width="0.75"/><circle cx="379.28" cy="75.38" r="2.5" fill="#c9bf1b" stroke="#1c1a00" stroke-width="0.75"/><circle cx="382.91" cy="72.05" r="2.4" fill="#c9bf1b" stroke="#1c1a00" stroke-width="0.75"/><circle cx="386.13" cy="69.48" r="2.4" fill="#c9bf1b" stroke="#1c1a00" stroke-width="0.75"/><circle cx="393.65" cy="64.60" r="2.0" fill="#c9bf1b" stroke="#1c1a00" stroke-width="0.75"/><circle cx="426.79" cy="135.98" r="3.0" fill="#e0281c" stroke="#3a0603" stroke-width="0.9"/><circle cx="427.80" cy="149.24" r="3.0" fill="#e0281c" stroke="#3a0603" stroke-width="0.9"/><circle cx="428.49" cy="162.52" r="3.0" fill="#e0281c" stroke="#3a0603" stroke-width="0.9"/><circle cx="368.90" cy="156.78" r="2.0" fill="#e0281c" stroke="#3a0603" stroke-width="0.9"/><circle cx="437.59" cy="116.18" r="3.0" fill="#12873a" stroke="#03200b" stroke-width="1.0"/><circle cx="443.61" cy="102.76" r="3.0" fill="#12873a" stroke="#03200b" stroke-width="1.0"/><circle cx="450.34" cy="111.96" r="3.0" fill="#12873a" stroke="#03200b" stroke-width="1.0"/><circle cx="452.55" cy="92.92" r="3.0" fill="#12873a" stroke="#03200b" stroke-width="1.0"/><circle cx="465.88" cy="121.40" r="3.0" fill="#12873a" stroke="#03200b" stroke-width="1.0"/><circle cx="454.20" cy="77.59" r="2.6" fill="#12873a" stroke="#03200b" stroke-width="1.0"/><circle cx="461.65" cy="83.21" r="3.2" fill="#12873a" stroke="#03200b" stroke-width="1.0"/><circle cx="479.18" cy="121.29" r="3.0" fill="#12873a" stroke="#03200b" stroke-width="1.0"/><circle cx="373.62" cy="131.99" r="3.0" fill="#12873a" stroke="#03200b" stroke-width="1.0"/><circle cx="461.08" cy="66.21" r="2.6" fill="#12873a" stroke="#03200b" stroke-width="1.0"/><circle cx="470.50" cy="73.29" r="3.2" fill="#12873a" stroke="#03200b" stroke-width="1.0"/><circle cx="492.48" cy="121.00" r="3.0" fill="#12873a" stroke="#03200b" stroke-width="1.0"/><circle cx="360.61" cy="134.81" r="2.8" fill="#12873a" stroke="#03200b" stroke-width="1.0"/><circle cx="361.56" cy="139.13" r="2.8" fill="#12873a" stroke="#03200b" stroke-width="1.0"/><circle cx="364.55" cy="97.29" r="2.2" fill="#12873a" stroke="#03200b" stroke-width="1.0"/></g>
<g><text x="524.62" y="80.43" font-size="5.45" text-anchor="middle" transform="rotate(66.8 524.62 80.43)" dy="0.35em">Actinobacteria</text><text x="495.64" y="43.71" font-size="5.45" text-anchor="middle" transform="rotate(41.4 495.64 43.71)" dy="0.35em">Coriobacteriia</text><text x="489.45" y="48.93" font-size="5.45" text-anchor="middle" transform="rotate(40.7 489.45 48.93)" dy="0.35em">Coriobacteriales</text><text x="522.98" y="120.50" font-size="5.45" text-anchor="middle" transform="rotate(88.7 522.98 120.50)" dy="0.35em">Actinomycetales</text><text x="505.27" y="120.62" font-size="5.45" text-anchor="middle" transform="rotate(88.5 505.27 120.62)" dy="0.35em">a</text><text x="514.07" y="120.39" font-size="5.45" text-anchor="middle" transform="rotate(88.5 514.07 120.39)" dy="0.35em">b</text><text x="478.14" y="63.35" font-size="5.45" text-anchor="middle" transform="rotate(41.3 478.14 63.35)" dy="0.35em">c</text><text x="484.97" y="56.98" font-size="5.45" text-anchor="middle" transform="rotate(41.9 484.97 56.98)" dy="0.35em">d</text><text x="468.45" y="56.07" font-size="5.45" text-anchor="middle" transform="rotate(32.5 468.45 56.07)" dy="0.35em">e</text><text x="474.26" y="48.39" font-size="5.45" text-anchor="middle" transform="rotate(33.0 474.26 48.39)" dy="0.35em">f</text><text x="432.27" y="228.31" font-size="5.45" text-anchor="middle" transform="rotate(-183.4 432.27 228.31)" dy="0.35em">Fusobacteriia</text><text x="431.75" y="219.43" font-size="5.45" text-anchor="middle" transform="rotate(-183.4 431.75 219.43)" dy="0.35em">Fusobacteriales</text><text x="353.61" y="91.07" font-size="5.45" text-anchor="middle" transform="rotate(-66.4 353.61 91.07)" dy="0.35em">g</text><text x="347.31" y="137.14" font-size="5.45" text-anchor="middle" transform="rotate(-100.4 347.31 137.14)" dy="0.35em">h</text><text x="348.28" y="141.65" font-size="5.45" text-anchor="middle" transform="rotate(-103.7 348.28 141.65)" dy="0.35em">i</text><text x="338.41" y="138.46" font-size="5.45" text-anchor="middle" transform="rotate(-100.2 338.41 138.46)" dy="0.35em">j</text><text x="357.07" y="163.30" font-size="5.45" text-anchor="middle" transform="rotate(-120.5 357.07 163.30)" dy="0.35em">k</text></g>
</svg>
</body></html>
